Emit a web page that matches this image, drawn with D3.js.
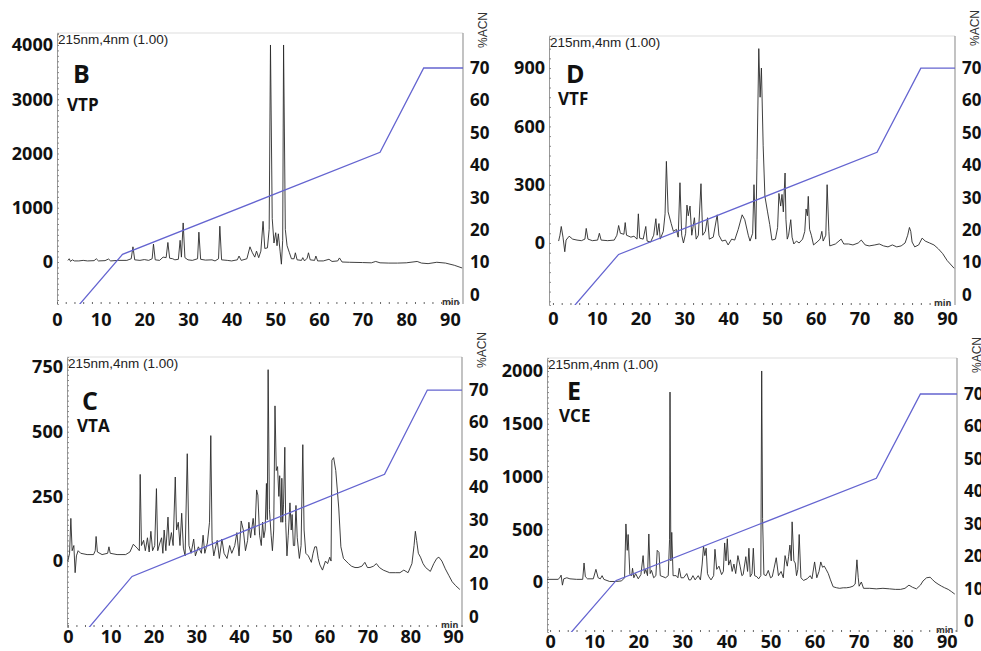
<!DOCTYPE html>
<html>
<head>
<meta charset="utf-8">
<title>RP-HPLC chromatograms</title>
<script src="https://d3js.org/d3.v7.min.js"></script>
<style>
  body { margin: 0; background: #fff; }
  .num { font-family: "Open Sans", sans-serif; font-weight: 700; fill: #111; }
  .small { font-family: "Liberation Sans", Arial, sans-serif; fill: #222; }
</style>
</head>
<body>
<div id="chart"></div>
<script>
// x ticks (min) and right axis ticks (%ACN), shared by all panels
var xTicks = [0, 10, 20, 30, 40, 50, 60, 70, 80, 90];
var acnTicks = [0, 10, 20, 30, 40, 50, 60, 70];

// ACN gradient: [time (min), %ACN]
var gradient = [[0, -11], [15, 12.5], [74, 44], [84, 70], [95, 70]];

// left axis ticks per panel (mAU)
var ticksB = [0, 1000, 2000, 3000, 4000];
var ticksD = [0, 300, 600, 900];
var ticksC = [0, 250, 500, 750];
var ticksE = [0, 500, 1000, 1500, 2000];

// chromatogram traces, [time (min), absorbance]
var traceB = [[2.5,30],[2.8,60],[3.1,10],[3.5,40],[4,20],[5,20],[6,30],[7,20],[8.5,25],[9,60],[9.5,20],[11,25],[11.8,55],[12.3,20],[14,30],[16,30],[17,60],[17.4,280],[17.8,40],[19,30],[20,45],[21,30],[21.8,60],[22.1,330],[22.5,40],[23.5,30],[24.3,90],[25,80],[25.4,360],[25.8,70],[26.5,60],[27,40],[27.8,50],[28.2,400],[28.5,90],[28.9,720],[29.3,80],[30,40],[31,30],[32.2,60],[32.5,550],[32.9,50],[34,35],[35.5,40],[36.2,20],[37,60],[37.3,660],[37.7,40],[39,30],[40,20],[41.3,40],[41.7,110],[42.2,30],[43.5,60],[44.2,280],[44.7,180],[45.3,90],[45.7,200],[46.2,80],[46.7,200],[47.2,750],[47.6,250],[48.2,260],[48.6,600],[48.9,4000],[49.3,800],[49.7,350],[50.1,540],[50.4,300],[50.7,520],[51.1,200],[51.4,-40],[51.7,400],[51.9,4000],[52.3,600],[52.7,300],[53.2,180],[53.7,60],[54.3,60],[54.6,170],[55,40],[56,30],[56.3,80],[56.7,20],[57.3,70],[57.6,170],[58,40],[59,30],[59.3,110],[59.7,20],[61,20],[62.3,50],[63,10],[64.3,20],[64.7,75],[65.3,0],[67,-5],[70,-10],[72,-15],[73,10],[74,-15],[76,-20],[78,-20],[80,-15],[82.5,10],[83.5,-20],[85,-30],[87,-5],[89,-20],[91,-60],[92.8,-110]];

var traceD = [[1.3,10],[1.6,40],[1.9,85],[2.3,30],[2.7,-45],[3.0,15],[3.7,35],[4.5,20],[5.5,15],[6.5,12],[7.3,20],[7.6,75],[8.0,20],[9,12],[10.2,15],[10.6,50],[11,15],[12.5,12],[14,15],[14.6,40],[15,90],[15.4,50],[16.2,45],[16.5,105],[16.8,40],[17.8,30],[18.5,35],[19.2,20],[19.5,150],[19.8,25],[20.6,20],[21.2,85],[21.5,10],[22.3,5],[23,40],[23.5,125],[23.8,40],[24.2,100],[24.5,20],[25.2,60],[25.6,150],[25.9,420],[26.3,160],[27,100],[27.5,60],[28.2,70],[28.6,30],[29.0,310],[29.4,40],[29.8,0],[30.3,50],[30.6,195],[30.9,140],[31.3,190],[31.7,40],[32.3,130],[32.7,20],[33.2,40],[33.8,305],[34.2,40],[34.8,60],[35.3,130],[35.7,20],[36.6,30],[37.5,145],[37.9,40],[38.6,10],[39.4,15],[40,-10],[40.8,20],[41.5,15],[42.3,70],[43.2,145],[43.8,120],[44.6,40],[45,10],[45.6,50],[45.9,300],[46.3,20],[46.6,430],[47.0,1000],[47.3,750],[47.6,900],[48,500],[48.4,240],[49,160],[49.5,95],[50,15],[50.8,20],[51.3,80],[51.6,255],[52,190],[52.3,250],[52.6,160],[53,360],[53.2,120],[53.5,20],[53.8,40],[54.3,120],[54.6,30],[55,-5],[55.6,10],[56.2,0],[57,20],[57.5,60],[57.8,175],[58.1,140],[58.3,240],[58.6,70],[59,40],[59.5,-10],[60.3,5],[61,20],[61.4,60],[61.7,10],[62.3,40],[62.6,300],[63,60],[63.2,-15],[64.5,-5],[65.3,10],[65.8,20],[66.4,-5],[67.5,-5],[68.5,-10],[69.7,0],[70.4,15],[71.3,-10],[72.2,-15],[73.5,-10],[74.5,-5],[75.5,-15],[76.5,-20],[77.5,-10],[78.5,-20],[79.5,-15],[80.4,0],[81,40],[81.4,80],[81.7,60],[82,5],[82.6,-20],[83.5,-10],[84.3,25],[85,10],[86,0],[87,-10],[88,-30],[89,-55],[90,-90],[91.6,-130]];

var traceC = [[0,0],[0.4,30],[0.7,165],[1.0,40],[1.4,60],[1.7,-45],[2.0,20],[2.4,40],[3,30],[4.5,25],[6,25],[6.4,40],[6.6,95],[6.9,35],[8,25],[9.3,30],[9.6,55],[9.9,30],[11.5,25],[13.5,25],[14.5,35],[15.3,65],[16.2,50],[16.7,40],[16.9,335],[17.2,60],[17.7,80],[18.1,40],[18.6,90],[19,35],[19.4,115],[19.8,40],[20.3,60],[20.7,280],[21.0,40],[21.5,70],[21.9,90],[22.2,30],[22.5,120],[22.9,40],[23.4,170],[23.7,60],[24.2,110],[24.6,60],[25.1,325],[25.4,120],[25.8,150],[26.2,60],[26.6,185],[27,50],[27.4,20],[27.9,415],[28.3,60],[28.8,30],[29.4,85],[29.8,20],[30.5,55],[31.2,30],[31.6,100],[32,30],[32.6,70],[33.1,150],[33.4,485],[33.7,80],[34.1,20],[34.6,60],[34.9,80],[35.4,10],[36,85],[36.5,30],[37.2,10],[37.8,60],[38.3,30],[39,60],[39.5,110],[40,20],[40.5,155],[41,120],[41.5,40],[42,80],[42.3,150],[42.7,90],[43.3,165],[43.7,100],[44.1,275],[44.4,255],[44.8,100],[45.2,60],[45.5,150],[45.8,90],[46.1,120],[46.4,300],[46.6,160],[46.8,740],[47.1,200],[47.5,100],[47.8,40],[48.1,120],[48.4,600],[48.7,350],[49.0,365],[49.3,250],[49.5,330],[49.8,150],[50.0,320],[50.2,150],[50.4,220],[50.7,440],[50.9,150],[51.2,20],[51.5,100],[51.9,225],[52.2,120],[52.4,180],[52.7,60],[53,60],[53.3,215],[53.6,90],[54.1,10],[54.5,60],[54.9,450],[55.2,120],[55.6,30],[56.2,20],[56.9,-5],[57.3,30],[57.7,55],[58.1,55],[58.5,10],[58.9,-15],[59.5,-35],[60.2,0],[60.7,-10],[61.2,15],[61.5,0],[61.7,390],[62.1,400],[62.6,350],[63.3,205],[63.8,55],[64.4,10],[65,0],[65.6,-10],[66.3,-20],[67.1,-25],[67.8,-25],[68.7,-20],[69.4,-5],[70,-25],[70.6,-25],[71.4,-20],[72.1,-10],[72.8,-25],[73.7,-35],[75.2,-45],[76.5,-45],[77.6,-45],[78.5,-35],[79.5,-45],[80.4,-10],[80.9,60],[81.2,115],[81.5,80],[81.9,30],[82.4,15],[83,-10],[83.6,-25],[84.7,-40],[85.5,-10],[86.2,10],[86.7,15],[87.4,0],[88.2,-30],[89,-55],[89.8,-80],[90.6,-95],[91.6,-110]];

var traceE = [[-0.7,25],[1.8,25],[2.2,40],[2.5,65],[2.8,-30],[3.1,30],[3.8,40],[4.5,30],[6,25],[7.4,25],[7.7,180],[8.0,50],[8.5,30],[9.8,30],[10.4,120],[10.9,40],[11.4,30],[11.8,60],[12.2,25],[13.5,5],[15,5],[16.2,10],[16.9,40],[17.2,550],[17.5,300],[17.7,450],[18.1,70],[18.5,60],[18.7,130],[19,40],[19.4,80],[20,30],[20.6,70],[21.1,250],[21.4,80],[21.7,120],[22.1,60],[22.4,455],[22.7,80],[23,110],[23.5,40],[24.0,60],[24.3,300],[24.7,280],[25,60],[25.6,50],[26.2,40],[26.8,60],[27.1,400],[27.2,1800],[27.4,200],[27.6,470],[27.9,60],[28.6,60],[29,40],[29.3,130],[29.7,40],[30.3,40],[31,80],[31.5,20],[31.9,20],[32.4,60],[32.9,20],[33.6,60],[34.1,20],[34.5,170],[34.8,340],[35.1,250],[35.4,320],[35.7,80],[36,50],[36.5,20],[37.1,60],[37.4,310],[37.8,120],[38.3,150],[38.9,70],[39.3,100],[39.6,370],[39.9,200],[40.2,410],[40.5,160],[40.9,210],[41.3,100],[41.7,170],[42.1,80],[42.6,250],[43.1,150],[43.5,60],[43.8,70],[44.4,240],[44.8,100],[45.1,320],[45.4,50],[45.8,80],[46.1,320],[46.4,60],[46.9,50],[47.3,30],[47.8,60],[48.0,2000],[48.2,600],[48.5,70],[49,60],[49.5,110],[50,40],[50.4,50],[50.8,130],[51.3,230],[51.8,60],[52.4,100],[52.9,40],[53.3,250],[53.8,150],[54.1,240],[54.4,350],[54.7,200],[54.9,570],[55.3,200],[55.6,180],[55.9,60],[56.2,120],[56.5,450],[56.9,40],[57.5,15],[58.3,30],[59,60],[59.4,30],[60,190],[60.5,40],[61,100],[61.4,190],[61.8,140],[62.2,150],[62.6,120],[63.1,80],[63.6,20],[64.2,-45],[65,-55],[65.7,-60],[66.5,-55],[67.2,-55],[68,-50],[68.7,-40],[69.2,-20],[69.6,210],[69.9,40],[70.1,-40],[70.6,0],[71.1,-60],[72.5,-60],[74,-65],[75.5,-60],[77,-65],[78.3,-70],[79.5,-70],[80.5,-60],[81.4,-30],[82.2,-50],[83.1,-65],[84,-30],[84.6,10],[85.4,40],[86.2,45],[86.8,20],[87.3,0],[88,-20],[88.8,-40],[89.5,-55],[90.3,-70],[91,-90],[91.8,-115]];

var width = 981, height = 651;
var fmt = d3.format('d');

var svg = d3.select('#chart').append('svg')
    .attr('width', width)
    .attr('height', height)
    .style('display', 'block');

svg.append('rect').attr('width', width).attr('height', height).attr('fill', '#fff');

// panel boxes in pixels, plus domains
var panels = [
    { id: 'B', name: 'VTP', trace: traceB, yTicks: ticksB,
      l: 57, t: 33, r: 463, b: 304, x: [0, 93.0], y: [-774, 4221], acn: [-2.8, 80.8],
      letter: [16, 50], sub: [10, 78], acnY: -3, xPad: 9 },
    { id: 'D', name: 'VTF', trace: traceD, yTicks: ticksD,
      l: 549, t: 36, r: 955, b: 305, x: [-0.9, 91.8], y: [-319, 1065], acn: [-3.1, 79.9],
      letter: [17, 47], sub: [9, 69], acnY: -8, xPad: 7 },
    { id: 'C', name: 'VTA', trace: traceC, yTicks: ticksC,
      l: 67, t: 357, r: 462, b: 627, x: [-0.2, 92.1], y: [-255, 789], acn: [-3.1, 80.2],
      letter: [15, 53], sub: [10, 75], acnY: -7, xPad: 3 },
    { id: 'E', name: 'VCE', trace: traceE, yTicks: ticksE,
      l: 547, t: 358, r: 957, b: 632, x: [-0.7, 92.3], y: [-474, 2123], acn: [-3.4, 81.1],
      letter: [20, 42], sub: [12, 64], acnY: -3, xPad: 3 }
];

panels.forEach(function(p) {
    var x = d3.scaleLinear().domain(p.x).range([p.l, p.r]);
    var y = d3.scaleLinear().domain(p.y).range([p.b, p.t]);
    var yA = d3.scaleLinear().domain(p.acn).range([p.b, p.t]);
    var g = svg.append('g');

    g.append('clipPath').attr('id', 'clip' + p.id)
        .append('rect')
        .attr('x', p.l).attr('y', p.t)
        .attr('width', p.r - p.l).attr('height', p.b - p.t);

    // frame: light top, grey right
    g.append('line').attr('x1', p.l).attr('x2', p.r).attr('y1', p.t).attr('y2', p.t)
        .attr('stroke', '#ddd').attr('stroke-width', 1);
    g.append('line').attr('x1', p.r).attr('x2', p.r).attr('y1', p.t).attr('y2', p.b)
        .attr('stroke', '#9a9a9a').attr('stroke-width', 1.2);

    // minor ticks on left and bottom
    var minorL = g.append('g').attr('transform', 'translate(' + p.l + ',0)')
        .call(d3.axisLeft(y).ticks(40).tickSize(-2).tickFormat(''));
    minorL.select('.domain').attr('stroke', '#999');
    minorL.selectAll('.tick line').attr('stroke', '#888');

    var minorB = g.append('g').attr('transform', 'translate(0,' + p.b + ')')
        .call(d3.axisBottom(x).ticks(30).tickSize(-2).tickFormat(''));
    minorB.select('.domain').remove();
    minorB.selectAll('.tick line').attr('stroke', '#666');

    // left axis labels
    var yAxis = g.append('g').attr('transform', 'translate(' + p.l + ',0)')
        .call(d3.axisLeft(y).tickValues(p.yTicks).tickFormat(fmt).tickSize(0).tickPadding(4));
    yAxis.select('.domain').remove();
    yAxis.selectAll('text').attr('class', 'num').style('font-size', '18px')
        .attr('font-family', null);

    // bottom axis labels
    var xAxis = g.append('g').attr('transform', 'translate(0,' + p.b + ')')
        .call(d3.axisBottom(x).tickValues(xTicks).tickFormat(fmt).tickSize(0).tickPadding(p.xPad));
    xAxis.select('.domain').remove();
    xAxis.selectAll('text').attr('class', 'num').style('font-size', '18px')
        .attr('font-family', null);

    // right axis (%ACN)
    var aAxis = g.append('g').attr('transform', 'translate(' + p.r + ',0)')
        .call(d3.axisRight(yA).tickValues(acnTicks).tickFormat(fmt).tickSize(0).tickPadding(7));
    aAxis.select('.domain').remove();
    aAxis.selectAll('text').attr('class', 'num').style('font-size', '17px')
        .attr('font-family', null);

    g.append('text').attr('class', 'small')
        .attr('transform', 'translate(' + (p.r + 24) + ',' + (p.t + p.acnY) + ') rotate(-90)')
        .attr('text-anchor', 'middle')
        .style('font-size', '12px').style('fill', '#333')
        .text('%ACN');

    g.append('text').attr('class', 'small')
        .attr('x', p.l + 1).attr('y', p.t + 11)
        .style('font-size', '13.5px')
        .text('215nm,4nm (1.00)');

    g.append('text').attr('class', 'num')
        .attr('x', p.r - 21).attr('y', p.b + 1)
        .style('font-size', '9px').style('fill', '#333')
        .text('min');

    // traces
    var line = d3.line()
        .x(function(d) { return x(d[0]); })
        .y(function(d) { return y(d[1]); });
    var gline = d3.line()
        .x(function(d) { return x(d[0]); })
        .y(function(d) { return yA(d[1]); });

    g.append('path').datum(p.trace)
        .attr('clip-path', 'url(#clip' + p.id + ')')
        .attr('d', line)
        .attr('fill', 'none')
        .attr('stroke', '#2a2a2a')
        .attr('stroke-width', 0.9);

    g.append('path').datum(gradient)
        .attr('clip-path', 'url(#clip' + p.id + ')')
        .attr('d', gline)
        .attr('fill', 'none')
        .attr('stroke', '#6464d0')
        .attr('stroke-width', 1.3);

    // panel letter and sample name
    g.append('text').attr('class', 'num')
        .attr('x', p.l + p.letter[0]).attr('y', p.t + p.letter[1])
        .style('font-size', '25px')
        .text(p.id);
    g.append('text').attr('class', 'num')
        .attr('x', p.l + p.sub[0]).attr('y', p.t + p.sub[1])
        .style('font-size', '17px')
        .text(p.name);
});
</script>
</body>
</html>
